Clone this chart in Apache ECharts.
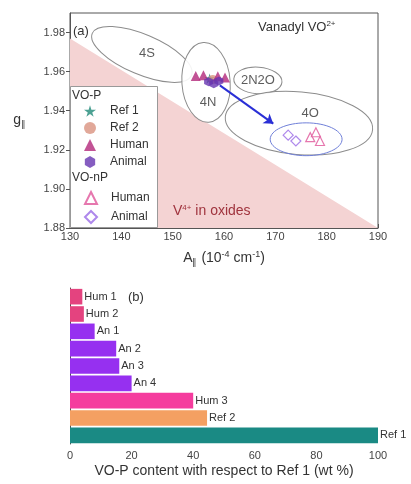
<!DOCTYPE html>
<html><head><meta charset="utf-8">
<script src="https://cdn.jsdelivr.net/npm/echarts@6/dist/echarts.min.js"></script>
<style>html,body{margin:0;padding:0;background:#fff}#c{width:411px;height:484px}</style>
</head><body><div id="c"></div>
<script>
// ---------- Panel (a) data ----------
const aTicks = [130, 190];            // A-axis extent
const gTicks = [1.88, 1.99];          // g-axis extent
const oxideRegion = [[130, 1.977], [130, 1.88], [190, 1.88]];
const ref1P = [[157.2, 1.9565]];
const ref2P = [[157.8, 1.9560]];
const humanP = [[154.5, 1.9578], [156.0, 1.9582], [158.8, 1.9576], [160.2, 1.9570]];
const animalP = [[157.0, 1.9548], [158.0, 1.9538], [159.0, 1.9552]];
const humanNP = [[176.8, 1.9265], [178.7, 1.9245], [177.9, 1.9290]];
const animalNP = [[172.5, 1.9275], [174.0, 1.9245]];
// ellipses: centre (A, g), semi-axes (A units, g units), tilt (deg, clockwise)
const ellipseCenters = [[144.0, 1.9688], [156.5, 1.9545], [166.6, 1.9555], [174.6, 1.9336], [176.0, 1.9254]];
const ellipseRadii = [[10.5, 0.0102], [4.7, 0.0204], [4.7, 0.0068], [14.4, 0.0160], [7.0, 0.0084]];
const ellipseTilt = [23, -4, 4, 5, 0];
const ellipseLabels = ['4S', '4N', '2N2O', '4O'];
const ellipseLabelPos = [[145.0, 1.9695], [156.9, 1.9443], [166.6, 1.9555], [176.8, 1.9387]];
const arrowPath = [[159.2, 1.9530], [169.6, 1.9334]];

// ---------- Panel (b) data ----------
const barCats = ['Hum 1', 'Hum 2', 'An 1', 'An 2', 'An 3', 'An 4', 'Hum 3', 'Ref 2', 'Ref 1'];
const barValues = [4, 4.5, 8, 15, 16, 20, 40, 44.5, 100];
const barPalette = ['#e4437f', '#e4437f', '#9630f0', '#9630f0', '#9630f0', '#9630f0', '#f53c9e', '#f4a062', '#1a8a84'];

const FONT = 'Liberation Sans, Arial, sans-serif';
const chart = echarts.init(document.getElementById('c'));
const star = 'path://M50,0 L61,35 L98,35 L68,57 L79,91 L50,70 L21,91 L32,57 L2,35 L39,35 Z';
const hexagon = 'path://M50,0 L93,25 L93,75 L50,100 L7,75 L7,25 Z';

const ellipseData = ellipseCenters.map((c, i) => [c[0], c[1], ellipseRadii[i][0], ellipseRadii[i][1], ellipseTilt[i], i]);

chart.setOption({
  animation: false,
  textStyle: { fontFamily: FONT },
  grid: [
    { left: 70, right: 33, top: 13, height: 215, show: true, borderColor: '#555', borderWidth: 1, backgroundColor: 'transparent' },
    { left: 70, right: 33, top: 288, height: 156 }
  ],
  xAxis: [
    { gridIndex: 0, type: 'value', min: aTicks[0], max: aTicks[1], interval: 10,
      name: 'A{sub|∥} (10{sup|-4} cm{sup|-1})', nameLocation: 'middle', nameGap: 22,
      nameTextStyle: { fontSize: 14, color: '#333', rich: { sub: { fontSize: 9, verticalAlign: 'bottom', padding: [8, 0, 0, 0] }, sup: { fontSize: 9, verticalAlign: 'top', padding: [0, 0, 7, 0] } } },
      axisLine: { lineStyle: { color: '#555' } }, axisTick: { inside: true, length: 4, lineStyle: { color: '#555' } },
      axisLabel: { fontSize: 11, color: '#444', margin: 3 }, splitLine: { show: false } },
    { gridIndex: 1, type: 'value', min: 0, max: 100, interval: 20,
      name: 'VO-P content with respect to Ref 1 (wt %)', nameLocation: 'middle', nameGap: 20,
      nameTextStyle: { fontSize: 14, color: '#333' },
      axisLine: { lineStyle: { color: '#555' } }, axisTick: { inside: true, length: 4, lineStyle: { color: '#555' } },
      axisLabel: { fontSize: 11, color: '#444', margin: 6 }, splitLine: { show: false } }
  ],
  yAxis: [
    { gridIndex: 0, type: 'value', min: gTicks[0], max: gTicks[1], interval: 0.02,
      name: 'g{sub|∥}', nameLocation: 'middle', nameRotate: 0, nameGap: 44,
      nameTextStyle: { fontSize: 14, color: '#333', rich: { sub: { fontSize: 9, verticalAlign: 'bottom', padding: [8, 0, 0, 0] } } },
      axisLine: { lineStyle: { color: '#555' } }, axisTick: { length: 4, lineStyle: { color: '#555' } },
      axisLabel: { fontSize: 11, color: '#444', margin: 5, showMaxLabel: false, formatter: v => v.toFixed(2) }, splitLine: { show: false } },
    { gridIndex: 1, type: 'category', data: barCats, inverse: true,
      axisLine: { show: true, lineStyle: { color: '#555' } }, axisTick: { show: false }, axisLabel: { show: false } }
  ],
  legend: [
    { data: ['Ref 1', 'Ref 2', 'Human', 'Animal'], orient: 'vertical', left: 84, top: 105, padding: 0,
      itemWidth: 12, itemHeight: 12, itemGap: 5, selectedMode: false, z: 6,
      textStyle: { fontSize: 12, color: '#333', padding: [0, 0, 0, 9] } },
    { data: ['Human ', 'Animal '], orient: 'vertical', left: 84, top: 191, padding: 0,
      itemWidth: 12, itemHeight: 12, itemGap: 5, selectedMode: false, z: 6,
      textStyle: { fontSize: 12, color: '#333', padding: [0, 0, 0, 9] } }
  ],
  graphic: [
    { type: 'rect', z: 3, shape: { x: 70.5, y: 86.5, width: 87, height: 141 }, style: { fill: '#fff', stroke: '#999', lineWidth: 1 } },
    { type: 'text', z: 6, left: 72, top: 90, style: { text: 'VO-P', fontSize: 12, fill: '#333', fontFamily: FONT } },
    { type: 'text', z: 6, left: 72, top: 172, style: { text: 'VO-nP', fontSize: 12, fill: '#333', fontFamily: FONT } },
    { type: 'text', z: 6, left: 73, top: 25, style: { text: '(a)', fontSize: 13, fill: '#333', fontFamily: FONT } },
    { type: 'text', z: 6, left: 258, top: 20, style: { text: 'Vanadyl VO{sup|2+}', fontSize: 13, fill: '#333', fontFamily: FONT, rich: { sup: { fontSize: 8, verticalAlign: 'top', padding: [0, 0, 7, 0] } } } },
    { type: 'text', z: 6, left: 173, top: 204, style: { text: 'V{sup|4+} in oxides', fontSize: 14, fill: '#a0343e', fontFamily: FONT, rich: { sup: { fontSize: 8, fill: '#a0343e', verticalAlign: 'top', padding: [0, 0, 7, 0] } } } },
    { type: 'text', z: 6, left: 128, top: 291, style: { text: '(b)', fontSize: 13, fill: '#333', fontFamily: FONT } }
  ],
  series: [
    { type: 'custom', xAxisIndex: 0, yAxisIndex: 0, z: 1, silent: true, data: [oxideRegion[1]],
      renderItem: (p, api) => ({ type: 'polygon', shape: { points: oxideRegion.map(pt => api.coord(pt)) }, style: { fill: '#f4d3d3' } }) },
    { type: 'custom', xAxisIndex: 0, yAxisIndex: 0, z: 2, silent: true, data: ellipseData,
      encode: { x: 0, y: 1 },
      renderItem: (p, api) => {
        const c = api.coord([api.value(0), api.value(1)]);
        const s = api.size([api.value(2), api.value(3)]);
        const blue = api.value(5) === 4;
        return { type: 'ellipse', x: c[0], y: c[1], rotation: -api.value(4) * Math.PI / 180,
          shape: { cx: 0, cy: 0, rx: s[0], ry: s[1] },
          style: { fill: blue ? 'rgba(255,255,255,0)' : 'rgba(255,255,255,0.9)', stroke: blue ? '#6f7fd8' : '#8c8c8c', lineWidth: 1 } };
      } },
    { type: 'scatter', xAxisIndex: 0, yAxisIndex: 0, z: 3, silent: true, symbolSize: 0,
      data: ellipseLabelPos.map((p, i) => ({ value: p, name: ellipseLabels[i] })),
      label: { show: true, position: 'inside', formatter: '{b}', fontSize: 13, color: '#333' } },
    { type: 'lines', coordinateSystem: 'cartesian2d', xAxisIndex: 0, yAxisIndex: 0, z: 4, silent: true,
      symbol: ['none', 'arrow'], symbolSize: 9,
      lineStyle: { color: '#2a2fd6', width: 2, opacity: 1 },
      data: [{ coords: arrowPath }] },
    { name: 'Ref 1', type: 'scatter', xAxisIndex: 0, yAxisIndex: 0, z: 5, symbol: star, symbolSize: 10, data: ref1P, itemStyle: { color: '#1f8a78' } },
    { name: 'Ref 2', type: 'scatter', xAxisIndex: 0, yAxisIndex: 0, z: 5, symbol: 'circle', symbolSize: 9, data: ref2P, itemStyle: { color: '#d9927f' } },
    { name: 'Human', type: 'scatter', xAxisIndex: 0, yAxisIndex: 0, z: 5, symbol: 'triangle', symbolSize: 10, data: humanP, itemStyle: { color: '#b3287a' } },
    { name: 'Animal', type: 'scatter', xAxisIndex: 0, yAxisIndex: 0, z: 5, symbol: hexagon, symbolSize: 9, data: animalP, itemStyle: { color: '#6634b0' } },
    { name: 'Human ', type: 'scatter', xAxisIndex: 0, yAxisIndex: 0, z: 5, symbol: 'triangle', symbolSize: 9, data: humanNP, itemStyle: { color: '#fff', borderColor: '#e0559a', borderWidth: 1.2 } },
    { name: 'Animal ', type: 'scatter', xAxisIndex: 0, yAxisIndex: 0, z: 5, symbol: 'diamond', symbolSize: 10, data: animalNP, itemStyle: { color: '#fff', borderColor: '#9a6ae6', borderWidth: 1.2 } },
    { type: 'bar', xAxisIndex: 1, yAxisIndex: 1, barCategoryGap: '10%', silent: true,
      data: barValues.map((v, i) => ({ value: v, itemStyle: { color: barPalette[i] } })),
      label: { show: true, position: 'right', distance: 2, formatter: p => barCats[p.dataIndex], fontSize: 11, color: '#333' } }
  ]
});
</script></body></html>
